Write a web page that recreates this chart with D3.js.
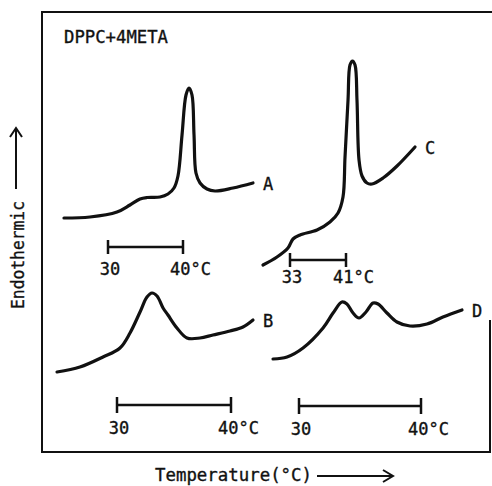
<!DOCTYPE html>
<html>
<head>
<meta charset="utf-8">
<script src="https://cdn.jsdelivr.net/npm/d3@7"></script>
<style>
  body { margin: 0; background: #fff; }
  text { font-family: "DejaVu Sans Mono", "Liberation Mono", monospace; fill: #111; stroke: #111; stroke-width: 0.35; }
</style>
</head>
<body>
<svg id="chart" width="492" height="486"></svg>
<script>
// traced thermograms: [temperature °C, endotherm (arb. units)]
const curveA = [
  [24.13, 0.2], [27.6, 0.3], [31.2, 0.8], [32.93, 1.5], [34.27, 2.1], [35.2, 2.25],
  [36.93, 2.3], [38.0, 2.6], [38.8, 3.2], [39.33, 4.4], [39.87, 8.5], [40.4, 12.5],
  [40.8, 13.2], [41.2, 12.5], [41.47, 8.5], [41.73, 4.7], [42.27, 3.7], [43.2, 3.1],
  [44.27, 2.9], [46.67, 3.2], [49.33, 3.7]
];
const curveB = [
  [24.74, 0.8], [26.75, 1.3], [28.77, 2.3], [30.26, 3.2], [31.14, 4.7], [32.02, 6.8],
  [32.63, 8.3], [33.07, 8.7], [33.51, 8.4], [34.04, 7.2], [34.47, 6.5], [35.26, 5.2],
  [36.14, 4.2], [37.28, 4.2], [38.42, 4.5], [39.91, 4.9], [41.05, 5.3], [41.93, 6.0]
];
const curveC = [
  [29.14, 0.5], [31.14, 1.3], [32.71, 2.2], [33.43, 3.1], [34.43, 3.5], [36.86, 4.0],
  [38.71, 4.8], [39.86, 5.7], [40.57, 7.3], [40.86, 11.3], [41.29, 17.0], [41.57, 20.5],
  [41.93, 20.9], [42.29, 20.5], [42.57, 17.0], [42.86, 11.0], [43.29, 9.4], [44.0, 8.7],
  [44.71, 8.6], [46.29, 9.2], [48.29, 10.4], [50.86, 12.3]
];
const curveD = [
  [27.87, 1.1], [29.02, 1.3], [30.33, 2.2], [31.97, 4.2], [32.79, 5.7], [33.52, 6.8],
  [33.93, 6.6], [34.43, 5.7], [34.92, 5.2], [35.49, 5.8], [36.07, 6.7], [36.48, 6.6],
  [37.21, 5.7], [38.03, 4.8], [39.1, 4.4], [40.49, 4.6], [41.8, 5.3], [43.36, 6.0]
];

// temperature scale bars and their labels
const barA = [30, 40], barLabelsA = ["30", "40°C"];
const barB = [30, 40], barLabelsB = ["30", "40°C"];
const barC = [33, 41], barLabelsC = ["33", "41°C"];
const barD = [30, 40], barLabelsD = ["30", "40°C"];

const title = "DPPC+4META";
const yTitle = "Endothermic";
const xTitle = "Temperature(°C)";

// layout of each small panel: pixel range of its scale bar, baseline of curve
const panels = [
  { name: "A", data: curveA, bar: barA, labels: barLabelsA, px: [108, 183], base: 220, barY: 247, labDy: 28, tick: 7 },
  { name: "B", data: curveB, bar: barB, labels: barLabelsB, px: [117, 231], base: 380, barY: 405, labDy: 29, tick: 8 },
  { name: "C", data: curveC, bar: barC, labels: barLabelsC, px: [290, 346], base: 270, barY: 260, labDy: 23, tick: 7 },
  { name: "D", data: curveD, bar: barD, labels: barLabelsD, px: [299, 421], base: 370, barY: 406, labDy: 29, tick: 8 }
];

const svg = d3.select("#chart");

// frame (right edge only partly survives in the scan)
svg.append("path")
  .attr("d", "M492,12 H42 V452 H490 V320")
  .attr("fill", "none").attr("stroke", "#111").attr("stroke-width", 2);

svg.append("text").attr("x", 64).attr("y", 43).attr("font-size", 17)
  .attr("textLength", 104).attr("lengthAdjust", "spacingAndGlyphs").text(title);

panels.forEach(p => {
  const x = d3.scaleLinear().domain(p.bar).range(p.px);
  const y = d3.scaleLinear().domain([0, 10]).range([p.base, p.base - 100]);
  const line = d3.line().x(d => x(d[0])).y(d => y(d[1])).curve(d3.curveCatmullRom.alpha(0.5));

  svg.append("path").datum(p.data)
    .attr("d", line)
    .attr("fill", "none").attr("stroke", "#111")
    .attr("stroke-width", 3.2).attr("stroke-linejoin", "round").attr("stroke-linecap", "round");

  const last = p.data[p.data.length - 1];
  svg.append("text")
    .attr("x", x(last[0]) + 10).attr("y", y(last[1]) + 7)
    .attr("font-size", 17).text(p.name);

  // scale bar
  const g = svg.append("g").attr("stroke", "#111").attr("stroke-width", 2.5);
  g.append("line").attr("x1", x(p.bar[0])).attr("x2", x(p.bar[1]))
    .attr("y1", p.barY).attr("y2", p.barY);
  g.selectAll("line.tk").data(p.bar).join("line").attr("class", "tk")
    .attr("x1", d => x(d)).attr("x2", d => x(d))
    .attr("y1", p.barY - p.tick).attr("y2", p.barY + p.tick);

  svg.append("text").attr("x", x(p.bar[0]) + 2).attr("y", p.barY + p.labDy)
    .attr("text-anchor", "middle").attr("font-size", 17).text(p.labels[0]);
  svg.append("text").attr("x", x(p.bar[1]) - 13).attr("y", p.barY + p.labDy)
    .attr("font-size", 17).text(p.labels[1]);
});

// axis titles with arrows
svg.append("text")
  .attr("transform", "translate(24,309) rotate(-90)")
  .attr("font-size", 17).attr("textLength", 108).attr("lengthAdjust", "spacingAndGlyphs")
  .text(yTitle);
const arr = svg.append("g").attr("stroke", "#111").attr("stroke-width", 2).attr("fill", "none");
arr.append("line").attr("x1", 16).attr("x2", 16).attr("y1", 189).attr("y2", 128);
arr.append("path").attr("d", "M10,137 L16,128 L22,137");

svg.append("text").attr("x", 155).attr("y", 481).attr("font-size", 17)
  .attr("textLength", 157).attr("lengthAdjust", "spacingAndGlyphs").text(xTitle);
arr.append("line").attr("x1", 317).attr("x2", 393).attr("y1", 476).attr("y2", 476);
arr.append("path").attr("d", "M383,470 L393,476 L383,482");
</script>
</body>
</html>
